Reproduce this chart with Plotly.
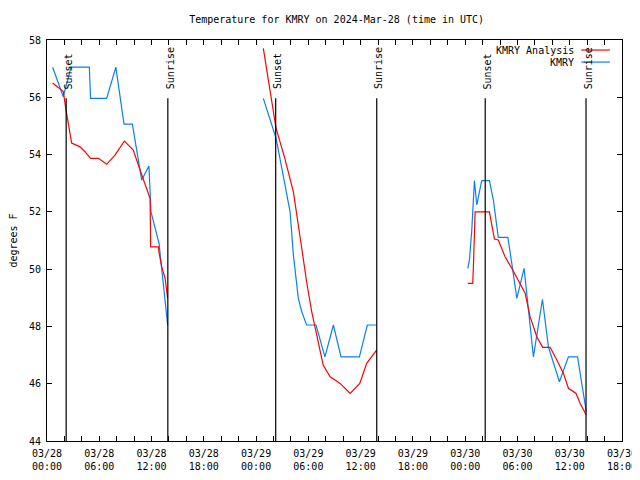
import pandas as pd
import plotly.graph_objects as go

base = pd.Timestamp("2024-03-28 00:00")

# KMRY Analysis (red): hours since 03/28 00:00 UTC, temperature F
ana_h1 = [0.65, 1.87, 2.18, 2.45, 2.83, 3.79, 4.36, 5.0, 5.9, 6.85, 7.8, 8.88, 9.9, 10.68, 11.45, 11.83, 11.9, 12.78, 12.85, 13.17, 13.55, 13.85]
ana_t1 = [56.5, 56.2, 55.56, 55.1, 54.4, 54.27, 54.1, 53.87, 53.87, 53.66, 53.98, 54.47, 54.16, 53.46, 52.76, 52.47, 50.78, 50.78, 50.6, 50.08, 49.69, 48.98]
ana_h2 = [24.83, 26.29, 27.3, 28.28, 29.24, 29.8, 30.39, 31.15, 31.7, 32.5, 33.64, 34.8, 35.9, 36.7, 37.3, 37.85]
ana_t2 = [57.71, 54.92, 53.87, 52.7, 50.73, 49.56, 48.51, 47.47, 46.65, 46.24, 46.01, 45.66, 46.01, 46.71, 46.94, 47.18]
ana_h3 = [48.3, 48.87, 48.95, 49.14, 50.78, 51.06, 51.36, 51.8, 52.58, 53.35, 54.1, 54.88, 55.45, 56.22, 56.9, 57.75, 58.52, 59.28, 59.85, 60.73, 61.2, 61.9]
ana_t3 = [49.5, 49.5, 50.14, 52.0, 52.0, 51.6, 51.05, 51.02, 50.43, 50.03, 49.62, 49.16, 48.34, 47.64, 47.27, 47.27, 46.83, 46.36, 45.84, 45.66, 45.31, 44.91]

# KMRY observations (blue)
obs_h1 = [0.65, 1.87, 2.76, 4.86, 5.0, 6.85, 7.9, 8.84, 9.8, 10.87, 11.7, 11.94, 12.86, 13.85]
obs_t1 = [57.05, 56.02, 57.05, 57.05, 55.96, 55.96, 57.05, 55.06, 55.06, 53.11, 53.6, 52.0, 50.9, 48.05]
obs_h2 = [24.83, 26.29, 27.1, 27.9, 28.28, 28.85, 29.24, 29.8, 30.88, 31.9, 32.87, 33.75, 35.86, 36.77, 37.85]
obs_t2 = [55.96, 54.57, 53.29, 52.0, 50.5, 48.98, 48.51, 48.05, 48.05, 46.94, 48.05, 46.94, 46.94, 48.05, 48.05]
obs_h3 = [48.3, 48.49, 48.76, 49.06, 49.33, 49.9, 50.78, 51.24, 51.8, 52.9, 53.35, 53.93, 54.76, 55.83, 56.87, 57.55, 58.82, 59.85, 60.9, 61.4, 61.9]
obs_t3 = [50.03, 50.32, 51.37, 53.09, 52.24, 53.09, 53.09, 52.41, 51.11, 51.11, 50.2, 48.98, 50.03, 46.94, 48.95, 47.29, 46.07, 46.94, 46.94, 45.9, 45.02]

sun_h = [2.2, 13.87, 26.25, 37.85, 50.3, 61.87]
sun_lbl = ["Sunset", "Sunrise", "Sunset", "Sunrise", "Sunset", "Sunrise"]

tick_h = list(range(0, 67, 6))
tick_txt = [(base + pd.Timedelta(hours=h)).strftime("%m/%d<br>%H:%M") for h in tick_h]

RED = "#ff0000"
BLUE = "#0a80f0"
FONT = "DejaVu Sans Mono"


def ts(hours):
    return [base + pd.Timedelta(hours=h) for h in hours]


def join(hs, ts_):
    xs, ys = [], []
    for h, t in zip(hs, ts_):
        xs += ts(h) + [None]
        ys += list(t) + [None]
    return xs, ys


fig = go.Figure()
ax, ay = join([ana_h1, ana_h2, ana_h3], [ana_t1, ana_t2, ana_t3])
ox, oy = join([obs_h1, obs_h2, obs_h3], [obs_t1, obs_t2, obs_t3])
fig.add_trace(go.Scatter(x=ox, y=oy, mode="lines", line=dict(color=BLUE, width=1.2),
                         name="KMRY", showlegend=False, connectgaps=False))
fig.add_trace(go.Scatter(x=ax, y=ay, mode="lines", line=dict(color=RED, width=1.2),
                         name="KMRY Analysis", showlegend=False, connectgaps=False))

for h, lbl in zip(sun_h, sun_lbl):
    t = base + pd.Timedelta(hours=h)
    fig.add_shape(type="line", xref="x", yref="paper", x0=t, x1=t, y0=0, y1=0.855,
                  line=dict(color="black", width=1.2))
    fig.add_annotation(x=t, y=0.872, xref="x", yref="paper", text=lbl, textangle=-90,
                       showarrow=False, xanchor="center", yanchor="bottom", xshift=2,
                       font=dict(family=FONT, size=10, color="black"))

# legend (gnuplot style: text then sample)
for i, (name, col) in enumerate([("KMRY Analysis", RED), ("KMRY", BLUE)]):
    yp = 0.975 - i * 0.03
    fig.add_annotation(x=0.92, y=yp, xref="paper", yref="paper", text=name, showarrow=False,
                       xanchor="right", yanchor="middle", font=dict(family=FONT, size=10, color="black"))
    fig.add_shape(type="line", xref="paper", yref="paper", x0=0.929, x1=0.979, y0=yp, y1=yp,
                  line=dict(color=col, width=1.2))

# page body has an 8px default margin, so the figure is 8px smaller and shifted
fig.update_layout(
    width=632, height=472,
    margin=dict(l=39, r=18, t=32, b=39, autoexpand=False),
    paper_bgcolor="white", plot_bgcolor="white",
    font=dict(family=FONT, size=10, color="black"),
    title=dict(text="Temperature for KMRY on 2024-Mar-28 (time in UTC)", x=0.52, xanchor="center",
               y=0.9746, yanchor="middle", yref="container",
               font=dict(family=FONT, size=10, color="black")),
    showlegend=False,
)
fig.update_xaxes(
    range=[base, base + pd.Timedelta(hours=66)],
    tickvals=ts(tick_h), ticktext=tick_txt, automargin=False, ticklabelstandoff=3,
    ticks="inside", ticklen=5, tickcolor="black", tickwidth=1,
    minor=dict(dtick=2 * 3600 * 1000, ticks="inside", ticklen=5, tickcolor="black", showgrid=False),
    showgrid=False, zeroline=False, showline=True, linecolor="black", linewidth=1, mirror="allticks",
    tickfont=dict(family=FONT, size=10, color="black"),
)
fig.update_yaxes(
    range=[44, 58], dtick=2, tick0=44, automargin=False, ticklabelstandoff=3,
    ticks="inside", ticklen=5, tickcolor="black",
    showgrid=False, zeroline=False, showline=True, linecolor="black", linewidth=1, mirror="allticks",
    title=dict(text="degrees F", standoff=21, font=dict(family=FONT, size=10, color="black")),
    tickfont=dict(family=FONT, size=10, color="black"),
)

fig.write_html("out.html")
